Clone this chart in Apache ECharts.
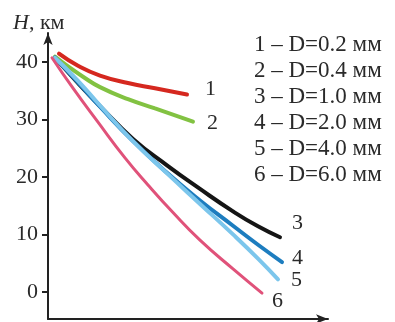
<!DOCTYPE html>
<html>
<head>
<meta charset="utf-8">
<script src="https://cdn.jsdelivr.net/npm/echarts@6/dist/echarts.min.js"></script>
<style>
  html, body { margin: 0; padding: 0; background: #fff; }
  #main { width: 395px; height: 322px; }
</style>
</head>
<body>
<div id="main"></div>
<script>
// horizontal position along the (unlabelled) x axis, in axis units
const names = ['1 – D=0.2 мм', '2 – D=0.4 мм', '3 – D=1.0 мм', '4 – D=2.0 мм', '5 – D=4.0 мм', '6 – D=6.0 мм'];
const curveTags = ['1', '2', '3', '4', '5', '6'];
const yTicks = [0, 10, 20, 30, 40];

const d02 = [[11, 41.4], [30, 39.3], [52, 37.6], [80, 36.3], [107, 35.4], [139, 34.3]];
const d04 = [[7, 40.9], [20, 39.2], [35, 37.4], [52, 35.6], [80, 33.5], [107, 31.9], [145, 29.6]];
const d10 = [[7, 40.7], [30, 36.3], [52, 32.3], [85, 26.6], [119, 22.0], [152, 17.9], [185, 14.0], [210, 11.4], [232, 9.5]];
const d20 = [[7, 40.7], [30, 36.4], [52, 32.2], [85, 26.2], [119, 20.7], [152, 15.9], [185, 11.5], [210, 8.2], [234, 5.2]];
const d40 = [[7, 40.7], [30, 36.7], [52, 32.4], [85, 26.2], [119, 20.6], [152, 15.3], [185, 10.0], [210, 5.8], [230, 2.2]];
const d60 = [[4, 40.7], [25, 35.4], [50, 29.5], [77, 23.3], [100, 18.6], [125, 13.8], [152, 9.0], [185, 4.0], [214, -0.2]];

const allData = [d02, d04, d10, d20, d40, d60];
const colors = ['#d5281f', '#82c242', '#151515', '#1d7dbf', '#7cc6ec', '#e0527a'];
const widths = [4, 4, 4, 4, 4, 3];
const tagOffsets = [[18, -5], [14, 2], [12, -14], [10, -4], [13, 1], [10, 8]];

const serif = 'Liberation Serif';

window.onload = function () {
  const chart = echarts.init(document.getElementById('main'));

  const series = allData.map(function (d, i) {
    return {
      name: names[i],
      type: 'line',
      data: d,
      smooth: true,
      symbol: 'none',
      lineStyle: { color: colors[i], width: widths[i], cap: 'round' },
      itemStyle: { color: colors[i] },
      endLabel: {
        show: true,
        distance: 0,
        offset: tagOffsets[i],
        formatter: curveTags[i],
        fontFamily: serif,
        fontSize: 22,
        color: '#2a2a2a'
      },
      animation: false
    };
  });

  const option = {
    animation: false,
    title: {
      left: 8,
      top: 7,
      text: '{h|H}{n|, км}',
      textStyle: {
        rich: {
          h: { fontFamily: serif, fontStyle: 'italic', fontWeight: 'normal', fontSize: 22, color: '#2a2a2a' },
          n: { fontFamily: serif, fontWeight: 'normal', fontSize: 22, color: '#2a2a2a' }
        }
      }
    },
    legend: {
      orient: 'vertical',
      left: 244,
      top: 27,
      icon: 'none',
      itemWidth: 0,
      itemHeight: 20,
      itemGap: 0,
      selectedMode: false,
      data: names,
      textStyle: { fontFamily: serif, fontSize: 23, lineHeight: 26, color: '#2a2a2a' }
    },
    grid: { left: 48, right: 67, top: 33, bottom: 3, containLabel: false },
    xAxis: {
      type: 'value',
      min: 0,
      max: 280,
      axisLine: {
        show: true,
        onZero: false,
        symbol: ['none', 'arrow'],
        symbolSize: [7, 12],
        lineStyle: { color: '#222', width: 2 }
      },
      axisTick: { show: false },
      axisLabel: { show: false },
      splitLine: { show: false }
    },
    yAxis: {
      type: 'value',
      min: -4.7,
      max: 45,
      axisLine: {
        show: true,
        onZero: false,
        symbol: ['none', 'arrow'],
        symbolSize: [7, 12],
        lineStyle: { color: '#222', width: 2 }
      },
      axisTick: {
        show: true,
        length: 6,
        customValues: yTicks,
        lineStyle: { color: '#222', width: 2 }
      },
      axisLabel: {
        margin: 10,
        customValues: yTicks,
        fontFamily: serif,
        fontSize: 22,
        color: '#2a2a2a'
      },
      splitLine: { show: false }
    },
    series: series
  };

  chart.setOption(option);
};
</script>
</body>
</html>
